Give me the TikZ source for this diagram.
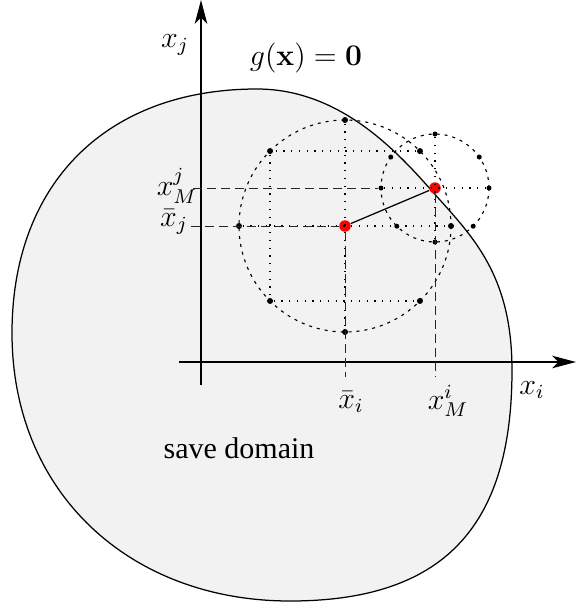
\documentclass[tikz,border=0pt]{standalone}
\usepackage{amsmath}
\usepackage[no-math]{fontspec}
\setmainfont{Liberation Serif}
\usetikzlibrary{arrows.meta}

\begin{document}
\begin{tikzpicture}[
  x=0.4pt, y=-0.4pt,
  font=\fontsize{12}{14}\selectfont,
  axis/.style={line width=0.6pt, -{Stealth[length=9.5pt,width=5pt,inset=2.5pt]}},
  border/.style={line width=0.5pt},
  ring/.style={line width=0.45pt, dash pattern=on 1.2pt off 2pt},
  gridline/.style={line width=0.55pt, dash pattern=on 0.5pt off 2.6pt},
  proj/.style={line width=0.4pt, black!85, dash pattern=on 3.6pt off 2pt},
  dot/.style={circle, fill=black, inner sep=0pt, minimum size=2.4pt},
  sdot/.style={circle, fill=black, inner sep=0pt, minimum size=2pt},
  best/.style={circle, fill=red, inner sep=0pt, minimum size=4.6pt},
  lab/.style={inner sep=1pt}
]
\useasboundingbox (0,0) rectangle (576,608);

% save domain, bounded by g(x)=0
\draw[border, fill=black!5] (257,89)
  .. controls (347,89) and (406.6,162.8) .. (440,200)
  .. controls (476.7,240.9) and (512,280) .. (512,370)
  .. controls (512,520) and (450,601) .. (290,601)
  .. controls (130,601) and (12,493) .. (12,333)
  .. controls (12,183) and (107,89) .. (257,89) -- cycle;

% axes
\coordinate (ybot) at (201,385);
\coordinate (ytop) at (201,0);
\coordinate (xleft) at (179,362);
\coordinate (xright) at (576,362);
\draw[axis] (ybot) -- (ytop);
\draw[axis] (xleft) -- (xright);

% centres
\node[best] (xbar) at (345,226) {};
\node[best] (xM) at (435,188) {};

% sample circles
\draw[ring] (xbar) circle[radius=106];
\draw[ring] (xM) circle[radius=54];
\foreach \a/\n in {0/e,45/se,90/s,135/sw,180/w,225/nw,270/n,315/ne}
  \path (xbar) ++(\a:106) node[dot] (b\n) {};
\foreach \a/\n in {0/e,45/se,90/s,135/sw,180/w,215/nw,270/n,325/ne}
  \path (xM) ++(\a:54) node[sdot] (s\n) {};

\draw[gridline] (bne) -- (bnw) -- (bsw) -- (bse) -- cycle;
\draw[gridline] (bn) -- (bs);
\draw[gridline] (bw) -- (be);
\draw[gridline] (sn) -- (ss);
\draw[gridline] (sw) -- (se);

% projections onto the axes
\coordinate (tMj) at (193,188);
\coordinate (tbj) at (191,226);
\coordinate (tbi) at (345,377);
\coordinate (tMi) at (435,377);
\draw[proj] (tMj) -- (sw);
\draw[proj] (tbj) -- (xbar);
\draw[proj] (xbar) -- (tbi);
\draw[proj] (xM) -- (tMi);

\draw[line width=0.5pt] (xbar) -- (xM);

% labels
\node[lab] (xjlab) at (175,45) {$x_j$};
\node[lab] (glab) at (306,58) {$g(\mathbf{x})=\mathbf{0}$};
\node[lab] (xMjlab) at (177,186) {$x_M^j$};
\node[lab] (xbjlab) at (174,222) {$\bar{x}_j$};
\node[lab] (xbilab) at (351,402) {$\bar{x}_i$};
\node[lab] (xMilab) at (448,401) {$x_M^i$};
\node[lab] (xilab) at (532,390) {$x_i$};
\node[lab] (safe) at (239,448) {save domain};
\end{tikzpicture}
\end{document}
